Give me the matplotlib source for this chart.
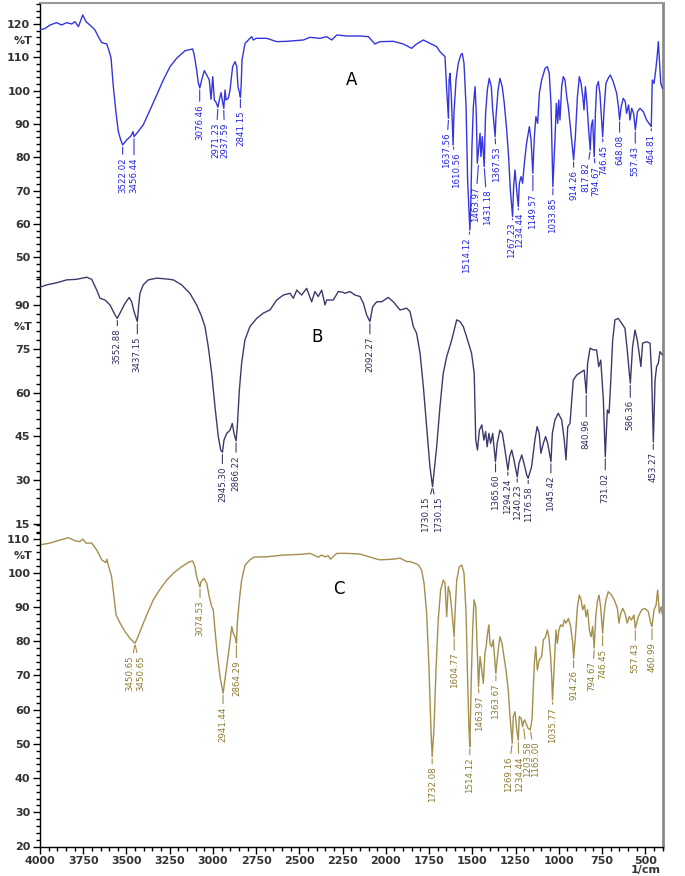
import numpy as np
import matplotlib
matplotlib.use('Agg')
import matplotlib.pyplot as plt
from matplotlib.ticker import MultipleLocator

# ---- spectrum A (blue) ----
wn_a = [4000, 3970, 3942, 3904, 3875, 3846, 3817, 3798, 3778, 3753, 3734, 3701, 3682, 3663, 3643, 3614,
        3599, 3589, 3576, 3560, 3547, 3533, 3522, 3499, 3474, 3462, 3456, 3441, 3403, 3364, 3325, 3287,
        3248, 3210, 3161, 3117, 3108, 3094, 3085, 3076, 3065, 3050, 3036, 3021, 3011, 3001, 2992, 2982,
        2971, 2963, 2953, 2944, 2937, 2930, 2924, 2911, 2901, 2886, 2872, 2862, 2855, 2847, 2841, 2836,
        2832, 2814, 2795, 2776, 2766, 2750, 2689, 2631, 2573, 2477, 2439, 2381, 2342, 2313, 2284, 2226,
        2149, 2101, 2063, 2034, 1957, 1899, 1851, 1822, 1783, 1745, 1706, 1687, 1658, 1648, 1638, 1634,
        1629, 1621, 1611, 1606, 1594, 1581, 1567, 1558, 1548, 1536, 1527, 1514, 1509, 1502, 1494, 1484,
        1477, 1471, 1464, 1455, 1450, 1442, 1431, 1427, 1423, 1413, 1402, 1390, 1382, 1368, 1363, 1351,
        1340, 1327, 1315, 1301, 1290, 1280, 1267, 1261, 1253, 1245, 1234, 1228, 1218, 1209, 1199, 1186,
        1170, 1160, 1150, 1141, 1132, 1122, 1112, 1099, 1079, 1066, 1055, 1045, 1038, 1034, 1022, 1014,
        1006, 1000, 993, 983, 974, 964, 954, 945, 931, 914, 904, 892, 881, 871, 861, 854,
        846, 837, 827, 818, 812, 804, 795, 788, 781, 771, 762, 752, 746, 737, 727, 714,
        702, 685, 665, 655, 648, 639, 627, 615, 608, 596, 588, 578, 567, 557, 545, 530,
        511, 492, 472, 465, 459, 449, 439, 431, 424, 418, 410, 400]
t_a = [118.2, 118.7, 119.7, 120.4, 119.7, 120.4, 120.0, 120.7, 119.2, 122.7, 120.7, 119.2, 118.2, 116.2, 114.4, 114.0,
       111.7, 109.7, 101.2, 93.2, 87.7, 85.2, 83.7, 85.2, 86.4, 87.7, 86.2, 87.2, 89.7, 94.2, 98.7, 103.2,
       107.2, 109.7, 112.0, 112.5, 110.7, 106.2, 102.5, 100.8, 103.2, 106.0, 104.7, 103.2, 97.4, 104.2, 97.2, 96.5,
       95.0, 97.2, 99.4, 96.5, 94.7, 100.2, 97.2, 97.7, 100.2, 107.2, 108.7, 107.2, 101.2, 99.5, 98.0, 102.2,
       109.2, 114.2, 115.2, 116.2, 115.2, 115.7, 115.7, 114.7, 114.8, 115.2, 116.0, 115.7, 116.2, 115.2, 116.7, 116.4,
       116.4, 116.2, 114.0, 114.7, 114.8, 114.0, 112.7, 114.0, 115.2, 114.2, 113.2, 111.7, 110.2, 100.2, 91.7, 103.2,
       105.2, 98.2, 83.7, 93.3, 103.2, 108.2, 110.7, 111.2, 108.2, 95.2, 73.2, 58.2, 65.2, 83.2, 95.2, 101.2,
       93.2, 78.2, 82.2, 87.2, 80.2, 86.2, 77.2, 86.2, 93.2, 100.2, 103.7, 101.2, 94.2, 86.2, 92.2, 100.2,
       103.7, 101.2, 96.2, 88.2, 80.2, 70.2, 62.2, 71.2, 76.2, 71.2, 65.2, 72.2, 74.2, 72.2, 78.2, 84.2,
       89.2, 85.2, 75.2, 86.2, 92.2, 90.2, 99.2, 103.2, 106.7, 107.2, 105.2, 96.2, 80.2, 71.2, 85.2, 96.2,
       90.2, 97.2, 91.2, 101.2, 104.2, 103.2, 98.2, 95.2, 88.2, 79.2, 86.2, 98.2, 104.2, 102.2, 98.2, 94.2,
       101.2, 96.2, 88.2, 82.2, 89.2, 91.2, 80.2, 93.2, 101.2, 102.7, 99.2, 91.2, 86.2, 95.2, 102.2, 103.7,
       104.7, 102.7, 99.2, 95.2, 91.2, 95.2, 97.7, 96.7, 93.2, 95.7, 91.2, 94.7, 93.2, 88.2, 93.7, 94.7,
       93.7, 91.2, 89.7, 89.2, 103.2, 102.2, 106.2, 110.2, 114.7, 109.2, 102.2, 100.7]

# ---- spectrum B (dark navy) ----
wn_b = [4000, 3961, 3904, 3846, 3788, 3730, 3701, 3672, 3653, 3624, 3595, 3566, 3553, 3533, 3508, 3484,
        3470, 3456, 3437, 3430, 3422, 3403, 3374, 3325, 3267, 3229, 3181, 3133, 3094, 3065, 3046, 3027,
        3007, 2988, 2969, 2955, 2945, 2936, 2920, 2901, 2888, 2878, 2866, 2859, 2847, 2834, 2815, 2786,
        2747, 2709, 2670, 2631, 2593, 2554, 2535, 2515, 2487, 2458, 2429, 2410, 2391, 2371, 2352, 2342,
        2304, 2275, 2250, 2236, 2207, 2178, 2149, 2130, 2111, 2092, 2076, 2053, 2024, 1986, 1957, 1918,
        1879, 1860, 1841, 1822, 1802, 1783, 1764, 1745, 1730, 1722, 1706, 1687, 1668, 1648, 1619, 1590,
        1571, 1552, 1533, 1504, 1489, 1480, 1470, 1459, 1445, 1433, 1423, 1414, 1404, 1394, 1382, 1366,
        1356, 1340, 1326, 1311, 1294, 1284, 1272, 1259, 1240, 1230, 1214, 1201, 1185, 1177, 1157, 1138,
        1125, 1113, 1103, 1089, 1076, 1064, 1045, 1037, 1022, 1003, 983, 968, 958, 948, 935, 916,
        896, 868, 853, 841, 833, 819, 800, 781, 769, 757, 742, 731, 719, 709, 699, 688,
        675, 656, 636, 617, 604, 592, 586, 573, 559, 546, 535, 525, 515, 492, 472, 463,
        453, 443, 434, 424, 415, 400]
t_b = [96.1, 96.9, 97.6, 98.6, 98.8, 99.5, 98.8, 95.1, 92.3, 91.7, 90.0, 86.6, 85.4, 87.7, 90.6, 92.6,
       91.1, 87.7, 84.3, 89.4, 94.0, 96.9, 98.6, 99.2, 98.9, 98.6, 96.9, 94.0, 90.0, 86.0, 82.6, 75.7,
       66.6, 55.1, 44.9, 40.3, 39.5, 43.7, 46.0, 47.1, 49.4, 46.0, 43.4, 48.3, 60.9, 70.0, 78.0, 82.6,
       85.4, 87.2, 88.3, 91.7, 93.4, 94.0, 92.3, 95.1, 93.4, 95.7, 91.1, 94.6, 92.9, 95.1, 90.0, 91.7,
       91.7, 94.6, 94.4, 94.0, 94.6, 93.4, 92.9, 90.6, 86.6, 84.3, 89.4, 91.1, 91.1, 92.6, 91.1, 88.3,
       88.9, 87.7, 82.6, 80.3, 73.4, 62.0, 48.3, 34.6, 27.7, 32.3, 41.4, 55.1, 66.6, 72.3, 78.0, 84.9,
       84.3, 82.6, 79.1, 73.4, 66.6, 43.7, 40.3, 47.1, 48.9, 43.7, 46.6, 41.4, 46.0, 42.6, 46.0, 36.3,
       42.6, 47.1, 46.0, 40.3, 33.4, 38.0, 40.3, 36.9, 31.1, 35.7, 38.6, 35.7, 31.7, 30.6, 34.6, 43.7,
       48.3, 46.0, 39.2, 42.6, 44.9, 42.6, 36.3, 46.0, 50.6, 52.9, 50.6, 43.7, 36.9, 48.3, 49.4, 64.3,
       66.0, 67.1, 67.7, 59.7, 70.0, 75.2, 74.6, 74.6, 68.9, 71.1, 57.4, 38.0, 54.0, 52.9, 64.3, 78.0,
       84.9, 85.4, 83.7, 82.0, 74.6, 66.6, 63.2, 75.7, 81.4, 78.0, 73.4, 68.9, 76.9, 77.4, 76.9, 66.6,
       43.0, 64.3, 68.9, 70.0, 74.0, 72.9]

# ---- spectrum C (olive) ----
wn_c = [4000, 3942, 3884, 3836, 3798, 3769, 3753, 3734, 3701, 3672, 3643, 3620, 3613, 3608, 3586, 3572,
        3560, 3537, 3508, 3480, 3451, 3441, 3422, 3383, 3345, 3306, 3267, 3229, 3181, 3133, 3117, 3104,
        3094, 3075, 3069, 3052, 3036, 3021, 3007, 2998, 2988, 2975, 2959, 2941, 2936, 2920, 2905, 2891,
        2882, 2870, 2864, 2859, 2847, 2834, 2814, 2786, 2763, 2689, 2593, 2496, 2439, 2391, 2381, 2371,
        2352, 2333, 2320, 2284, 2226, 2149, 2072, 2034, 1957, 1918, 1879, 1860, 1822, 1812, 1793, 1779,
        1764, 1750, 1739, 1732, 1722, 1710, 1697, 1683, 1668, 1658, 1648, 1639, 1629, 1619, 1605, 1600,
        1590, 1575, 1561, 1548, 1536, 1527, 1519, 1514, 1506, 1498, 1490, 1480, 1470, 1464, 1455, 1445,
        1436, 1427, 1420, 1412, 1404, 1398, 1388, 1379, 1369, 1364, 1350, 1340, 1328, 1317, 1305, 1292,
        1282, 1269, 1263, 1253, 1243, 1234, 1228, 1218, 1209, 1204, 1197, 1189, 1178, 1165, 1155, 1141,
        1133, 1124, 1113, 1099, 1089, 1076, 1066, 1057, 1047, 1040, 1036, 1024, 1016, 1008, 999, 989,
        977, 968, 958, 944, 931, 919, 914, 901, 892, 881, 871, 861, 851, 842, 833, 823,
        813, 804, 795, 786, 777, 767, 758, 746, 738, 727, 714, 694, 675, 661, 652, 642,
        630, 617, 604, 592, 579, 565, 557, 540, 521, 501, 482, 468, 461, 449, 437, 428,
        418, 408, 400]
t_c = [108.2, 108.7, 109.6, 110.3, 109.4, 109.1, 109.9, 108.7, 108.7, 106.7, 103.8, 103.0, 104.0, 102.8, 98.9, 93.0,
       87.7, 85.3, 82.8, 80.9, 79.4, 80.4, 82.8, 87.7, 92.1, 95.2, 97.9, 99.9, 101.8, 103.3, 103.5, 101.8,
       98.9, 95.8, 97.4, 98.4, 97.0, 93.0, 90.1, 89.2, 83.3, 76.5, 69.6, 64.8, 66.7, 72.6, 78.4, 84.3,
       82.3, 81.0, 79.4, 85.3, 92.1, 97.9, 102.3, 103.8, 104.6, 104.7, 105.2, 105.4, 105.7, 104.6, 104.9, 105.2,
       104.7, 105.0, 104.0, 105.7, 105.7, 105.5, 104.3, 103.8, 104.0, 104.3, 103.3, 103.3, 102.6, 102.3, 100.8, 97.0,
       88.2, 71.6, 54.1, 46.3, 54.1, 71.6, 86.2, 95.0, 97.9, 97.0, 87.2, 96.0, 94.0, 89.2, 81.3, 88.2,
       97.9, 101.8, 102.3, 99.9, 88.2, 68.7, 54.1, 49.2, 68.7, 83.3, 92.1, 90.1, 75.5, 66.7, 75.5, 71.6,
       67.7, 76.5, 78.4, 82.3, 84.8, 79.4, 78.4, 80.4, 73.6, 70.6, 77.5, 81.3, 79.4, 75.5, 71.6, 65.8,
       58.0, 50.2, 58.0, 59.4, 54.1, 51.1, 58.0, 57.5, 55.0, 56.5, 57.0, 56.0, 54.6, 54.1, 57.0, 73.6,
       78.4, 71.6, 74.5, 75.5, 80.4, 81.3, 83.3, 81.3, 75.5, 68.7, 62.8, 75.5, 83.3, 79.4, 83.3, 84.8,
       84.3, 86.2, 85.3, 86.7, 84.3, 79.4, 75.0, 83.3, 90.1, 93.5, 92.1, 89.2, 90.6, 87.2, 89.2, 83.3,
       81.3, 84.3, 78.0, 87.2, 91.6, 93.5, 90.1, 82.3, 88.2, 92.1, 94.5, 93.5, 91.6, 89.6, 85.3, 88.2,
       89.6, 88.2, 85.3, 87.2, 86.2, 87.7, 83.8, 87.2, 89.2, 89.6, 88.7, 85.3, 84.3, 89.2, 90.6, 95.0,
       88.2, 90.1, 87.7]

# peak labels (the text is the wavenumber)
peaks_a = ['3522.02', '3456.44', '3076.46', '2971.23', '2937.59', '2841.15', '1637.56', '1610.56',
           '1514.12', '1463.97', '1431.18', '1367.53', '1267.23', '1234.44', '1149.57', '1033.85',
           '914.26', '817.82', '794.67', '746.45', '648.08', '557.43', '464.81']
peaks_b = ['3552.88', '3437.15', '2945.30', '2866.22', '2092.27', '1730.15', '1730.15', '1365.60',
           '1294.24', '1240.23', '1176.58', '1045.42', '840.96', '731.02', '586.36', '453.27']
peaks_c = ['3450.65', '3450.65', '3074.53', '2941.44', '2864.29', '1732.08', '1604.77', '1514.12',
           '1463.97', '1363.67', '1269.16', '1234.44', '1203.58', '1165.00', '1035.77', '914.26',
           '794.67', '746.45', '557.43', '460.99']

# label offsets in pixels (dx, dy below the band minimum)
offs_a = [(0, 12), (0, 21), (0, 16), (-2, 15), (1, 14), (0, 13), (-2, 14), (3, 7),
          (-3, 7), (-3, 23), (3, 23), (1, 10), (-1, 6), (1, 6), (0, 20), (0, 11),
          (0, 10), (-4, 12), (2, 9), (1, 8), (0, 15), (0, 16), (0, 7)]
offs_b = [(0, 10), (0, 15), (0, 14), (0, 14), (0, 15), (-7, 10), (6, 10), (0, 13),
          (0, 8), (0, 8), (0, 8), (0, 14), (0, 26), (0, 16), (0, 17), (0, 10)]
offs_c = [(-5, 12), (6, 12), (0, 13), (0, 13), (0, 17), (0, 10), (0, 16), (0, 11),
          (1, 9), (0, 10), (-4, 13), (1, 16), (4, 15), (5, 12), (0, 7), (0, 12),
          (-2, 13), (0, 15), (0, 15), (0, 16)]

col_a, col_b, col_c = '#3535dd', '#3b3b6b', '#a48f4c'
lab_a, lab_b, lab_c = '#2424e0', '#2c2c5c', '#8c7a30'

plt.rcParams['font.family'] = ['DejaVu Sans']
fig = plt.figure(figsize=(6.85, 8.76), dpi=100)
rect = [40 / 685, (876 - 846.5) / 876, 622.5 / 685, 843.5 / 876]

ax_c = fig.add_axes(rect)
ax_b = fig.add_axes(rect, sharex=ax_c, facecolor='none')
ax_a = fig.add_axes(rect, sharex=ax_c, facecolor='none')

ax_c.set_xlim(4000, 400)
ax_a.set_ylim(-126.8, 126.3)
ax_b.set_ylim(-95.6, 193.5)
ax_c.set_ylim(20, 266.6)

ax_a.plot(wn_a, t_a, color=col_a, lw=1.0)
ax_b.plot(wn_b, t_b, color=col_b, lw=1.0)
ax_c.plot(wn_c, t_c, color=col_c, lw=1.0)

tick_kw = dict(fontsize=8, fontweight='bold', color='#333333')

# frame
for s in ['left', 'bottom']:
    ax_c.spines[s].set_color('black')
    ax_c.spines[s].set_linewidth(1.0)
ax_c.spines['top'].set_color('#9a9a9a')
ax_c.spines['top'].set_linewidth(1.5)
ax_c.spines['right'].set_color('#8a8a8a')
ax_c.spines['right'].set_linewidth(2.0)
for ax in (ax_a, ax_b):
    for s in ax.spines.values():
        s.set_visible(False)
    ax.tick_params(axis='x', bottom=False, labelbottom=False)

ax_c.xaxis.set_minor_locator(MultipleLocator(50))
ax_c.set_xticks(np.arange(4000, 499, -250))
ax_c.set_xticklabels([str(v) for v in range(4000, 499, -250)], **tick_kw)
ax_c.tick_params(axis='x', which='major', direction='out', length=5, width=1, pad=2)
ax_c.tick_params(axis='x', which='minor', direction='out', length=3, width=1)

def yaxis_setup(ax, majors, minors):
    ax.set_yticks(majors)
    ax.set_yticklabels([str(v) for v in majors], **tick_kw)
    ax.set_yticks(minors, minor=True)
    ax.tick_params(axis='y', which='major', direction='out', length=5, width=1, pad=2)
    ax.tick_params(axis='y', which='minor', direction='out', length=3, width=1)

yaxis_setup(ax_a, list(range(50, 121, 10)), [v for v in range(44, 127, 2) if v % 10])
yaxis_setup(ax_b, list(range(15, 91, 15)), [v for v in range(12, 100, 3) if v % 15])
yaxis_setup(ax_c, list(range(20, 111, 10)), [v for v in range(20, 115, 2) if v % 10])

# %T labels
for ax, yv in ((ax_a, 115), (ax_b, 82.5), (ax_c, 105)):
    ax.text(-0.012, yv, '%T', transform=ax.get_yaxis_transform(), ha='right', va='center', **tick_kw)

ax_c.text(500, -0.022, '1/cm', transform=ax_c.get_xaxis_transform(), ha='center', va='top', **tick_kw)

# panel letters
ax_a.text(2196, 103.2, 'A', fontsize=12, ha='center', va='center')
ax_b.text(2398, 79.0, 'B', fontsize=12, ha='center', va='center')
ax_c.text(2271, 95.3, 'C', fontsize=12, ha='center', va='center')

lab_font = ['Liberation Sans Narrow', 'DejaVu Sans']

def label_peaks(ax, wn, t, names, offs, col, lcol):
    wn = np.asarray(wn, float)
    t = np.asarray(t, float)
    for name, (dx, dy) in zip(names, offs):
        w = float(name)
        near = np.abs(wn - w) <= 8
        tip = t[near].min() if near.any() else np.interp(w, wn[::-1], t[::-1])
        ax.annotate(name, xy=(w, tip), xytext=(dx, -dy), textcoords='offset pixels',
                    rotation=90, ha='center', va='top', fontsize=6.2, family=lab_font,
                    color=lcol,
                    arrowprops=dict(arrowstyle='-', color=col, lw=0.8, shrinkA=0, shrinkB=1.5))

label_peaks(ax_a, wn_a, t_a, peaks_a, offs_a, col_a, lab_a)
label_peaks(ax_b, wn_b, t_b, peaks_b, offs_b, col_b, lab_b)
label_peaks(ax_c, wn_c, t_c, peaks_c, offs_c, col_c, lab_c)

fig.savefig('out.png', dpi=100)
